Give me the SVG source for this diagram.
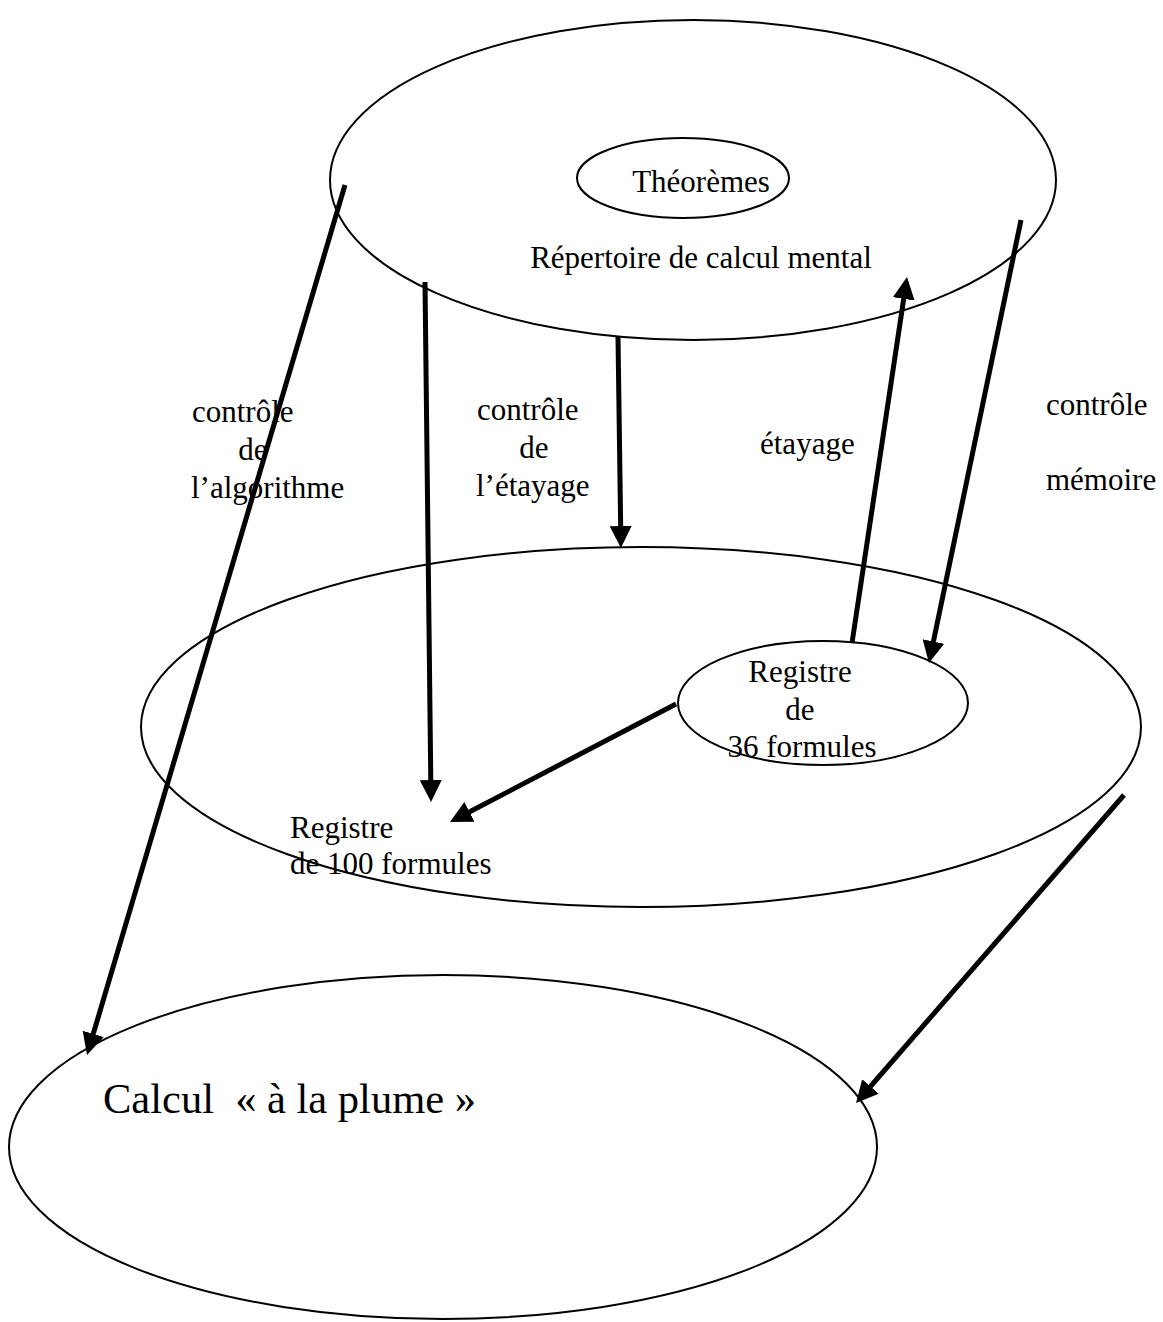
<svg xmlns="http://www.w3.org/2000/svg" width="1163" height="1322" viewBox="0 0 1163 1322">
<style>
.shape{fill:none;stroke:#000;stroke-width:2}
.t{font-family:"Liberation Serif","Times New Roman",serif;font-size:31px;fill:#000}
.big{font-size:42.5px}
.arr{stroke:#000;stroke-width:5;fill:none;marker-end:url(#ah)}
</style>
<defs>
<marker id="ah" markerUnits="userSpaceOnUse" markerWidth="26" markerHeight="24" refX="10" refY="11" orient="auto" viewBox="0 0 26 24">
<path d="M0,0 L22,11 L0,22 z" fill="#000"/>
</marker>
</defs>
<rect width="1163" height="1322" fill="#fff"/>
<g id="repertoire">
<ellipse class="shape" cx="693" cy="180" rx="363" ry="160"/>
<text class="t" x="701" y="268" text-anchor="middle">Répertoire de calcul mental</text>
</g>
<g id="theoremes">
<ellipse class="shape" cx="683" cy="178" rx="106" ry="40"/>
<text class="t" x="701" y="192" text-anchor="middle">Théorèmes</text>
</g>
<g id="registre100">
<ellipse class="shape" cx="641" cy="727" rx="500" ry="180"/>
<text class="t" x="290" y="838">Registre</text>
<text class="t" x="290" y="874">de 100 formules</text>
</g>
<g id="registre36">
<ellipse class="shape" cx="823" cy="703" rx="145" ry="62"/>
<text class="t" x="800" y="682" text-anchor="middle">Registre</text>
<text class="t" x="800" y="720" text-anchor="middle">de</text>
<text class="t" x="802" y="757" text-anchor="middle">36 formules</text>
</g>
<g id="plume">
<ellipse class="shape" cx="443" cy="1147" rx="434" ry="172"/>
<text class="t big" x="103" y="1113" xml:space="preserve">Calcul  « à la plume »</text>
</g>
<g id="labels">
<text class="t" x="192" y="422">contrôle</text>
<text class="t" x="253" y="460" text-anchor="middle">de</text>
<text class="t" x="191" y="498">l’algorithme</text>
<text class="t" x="477" y="420">contrôle</text>
<text class="t" x="534" y="458" text-anchor="middle">de</text>
<text class="t" x="476" y="496">l’étayage</text>
<text class="t" x="760" y="454">étayage</text>
<text class="t" x="1046" y="415">contrôle</text>
<text class="t" x="1046" y="490">mémoire</text>
</g>
<g id="connectors">
<line class="arr" x1="345" y1="185" x2="90.4" y2="1043.5"/>
<line class="arr" x1="425" y1="282" x2="430.9" y2="790"/>
<line class="arr" x1="618" y1="337" x2="620.8" y2="536"/>
<line class="arr" x1="852" y1="643" x2="905.2" y2="288.9"/>
<line class="arr" x1="1021" y1="220" x2="931.4" y2="651.3"/>
<line class="arr" x1="676" y1="704" x2="460.6" y2="816.5"/>
<line class="arr" x1="1124" y1="795" x2="863.9" y2="1094"/>
</g>
</svg>
